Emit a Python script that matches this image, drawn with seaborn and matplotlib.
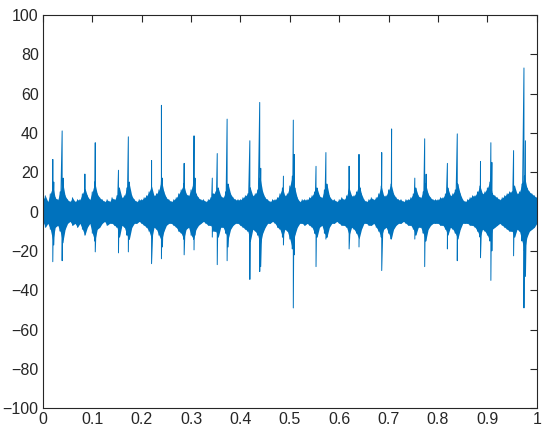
import numpy as np
import pandas as pd
import seaborn as sns
import matplotlib.pyplot as plt

# background band of the signal, read every 0.005 s (upper / lower edge)
t_env = np.round(np.arange(0, 201) * 0.005, 3)
env_hi = [6, 8, 5, 9, 13, 7, 6, 10, 15, 8,
          6, 5, 7, 5, 6, 6, 9, 12, 8, 6,
          10, 15, 9, 7, 6, 5, 6, 5, 7, 6,
          8, 12, 7, 8, 12, 14, 8, 6, 5, 6,
          6, 7, 8, 10, 13, 8, 9, 11, 16, 10,
          7, 6, 5, 6, 7, 9, 11, 14, 9, 8,
          11, 15, 9, 7, 6, 6, 5, 6, 7, 9,
          10, 12, 8, 7, 10, 14, 9, 7, 6, 6,
          6, 7, 8, 9, 12, 8, 9, 11, 17, 10,
          7, 6, 5, 6, 6, 7, 9, 12, 8, 9,
          13, 18, 12, 7, 5, 6, 6, 6, 7, 8,
          10, 12, 8, 7, 11, 14, 8, 6, 6, 5,
          6, 7, 6, 8, 12, 8, 8, 10, 14, 9,
          6, 5, 6, 7, 6, 7, 9, 13, 8, 8,
          11, 14, 9, 7, 6, 6, 5, 6, 6, 7,
          9, 12, 8, 7, 10, 14, 9, 7, 6, 6,
          6, 7, 7, 9, 12, 8, 9, 11, 14, 9,
          6, 5, 6, 7, 8, 8, 10, 13, 9, 10,
          12, 15, 9, 8, 7, 6, 7, 8, 9, 10,
          10, 13, 9, 10, 14, 18, 12, 10, 9, 8,
          7]
env_lo = [-5, -8, -6, -9, -15, -8, -7, -10, -16, -9,
          -6, -5, -7, -6, -8, -6, -9, -12, -8, -6,
          -11, -15, -9, -8, -6, -5, -7, -6, -6, -7,
          -8, -13, -7, -8, -12, -14, -8, -6, -6, -5,
          -6, -7, -8, -10, -14, -8, -9, -12, -15, -10,
          -7, -6, -6, -7, -8, -10, -11, -14, -9, -8,
          -12, -14, -9, -7, -6, -5, -6, -7, -7, -10,
          -10, -13, -8, -8, -11, -14, -9, -7, -6, -6,
          -7, -8, -9, -10, -15, -9, -10, -12, -17, -11,
          -8, -6, -6, -5, -6, -8, -9, -13, -9, -10,
          -14, -19, -12, -8, -6, -6, -7, -6, -7, -8,
          -11, -13, -8, -7, -11, -13, -8, -6, -6, -5,
          -6, -7, -7, -8, -12, -8, -9, -11, -14, -9,
          -6, -6, -7, -7, -6, -8, -10, -13, -9, -8,
          -11, -14, -9, -7, -6, -6, -5, -6, -7, -7,
          -9, -12, -8, -8, -11, -15, -9, -7, -6, -6,
          -6, -7, -7, -9, -12, -8, -9, -11, -14, -9,
          -6, -6, -6, -7, -7, -8, -10, -13, -9, -10,
          -12, -15, -9, -8, -7, -6, -7, -8, -9, -10,
          -10, -13, -9, -10, -15, -20, -13, -10, -9, -8,
          -6]

# impulse spikes: time, positive peak, negative peak
spike_t = [0.020, 0.039, 0.085, 0.106, 0.153, 0.173, 0.220, 0.240, 0.286, 0.306,
           0.343, 0.353, 0.373, 0.419, 0.439, 0.487, 0.507, 0.553, 0.573, 0.620,
           0.640, 0.686, 0.706, 0.753, 0.773, 0.819, 0.839, 0.886, 0.907, 0.953,
           0.974]
spike_up = [26.5, 41, 19, 35, 21, 38, 26, 54, 24.5, 38.5,
            17, 29.5, 47, 36, 55.5, 18, 46.5, 23, 30, 23,
            29, 30, 42, 17, 37, 24.5, 39.5, 25.5, 35, 31,
            73]
spike_dn = [-25.5, -25, -12, -20.5, -21, -20.5, -26.5, -24, -22, -19.5,
            -13, -27, -25, -34.5, -30.5, -17, -49, -28, -14, -19,
            -18, -30, -13.5, -14, -28, -19, -25, -23.5, -35, -22.5,
            -49]

# smaller echo spikes following the main ones
echo_t = [0.022, 0.041, 0.175, 0.242, 0.308, 0.375, 0.441, 0.509, 0.575, 0.642,
          0.776, 0.909, 0.977]
echo_up = [15, 17, 15, 17, 17, 11, 22, 29, 12, 12, 19, 25, 36]
echo_dn = [-17, -14, -12, -18, -12, -18, -28, -22, -10, -11, -12, -20, -33]

rows = []
for t, a, b in zip(t_env, env_hi, env_lo):
    rows += [(t, 0, a), (t, 1, b)]
for t, a, b in zip(spike_t, spike_up, spike_dn):
    rows += [(t, 0, a), (t, 1, b)]
for t, a, b in zip(echo_t, echo_up, echo_dn):
    rows += [(t, 0, a), (t, 1, b)]
df = pd.DataFrame(rows, columns=["t", "k", "v"]).sort_values(["t", "k"], kind="stable")

sns.set_style("white")
plt.rcParams["font.family"] = ["Liberation Sans", "DejaVu Sans"]

blue = "#0072BD"
fig = plt.figure(figsize=(5.5, 4.38), dpi=100)
ax = fig.add_axes([0.078, 0.068, 0.898, 0.898])
# solid body of the noise band
ax.fill_between(t_env, env_lo, env_hi, color=blue, linewidth=0)
sns.lineplot(data=df, x="t", y="v", sort=False, estimator=None,
             color=blue, linewidth=0.7, ax=ax)

ax.set_xlim(0, 1)
ax.set_ylim(-100, 100)
ax.set_xticks(np.round(np.arange(0, 11) * 0.1, 1))
ax.set_xticklabels(["0", "0.1", "0.2", "0.3", "0.4", "0.5", "0.6", "0.7", "0.8", "0.9", "1"])
ax.set_yticks(np.arange(-100, 101, 20))
ax.set_xlabel("")
ax.set_ylabel("")
ax.tick_params(direction="in", length=5, width=0.8, colors="#262626",
               labelsize=11.5, top=True, right=True, pad=3)
for s in ax.spines.values():
    s.set_color("#262626")
    s.set_linewidth(0.8)

fig.savefig("out.png", dpi=100)
